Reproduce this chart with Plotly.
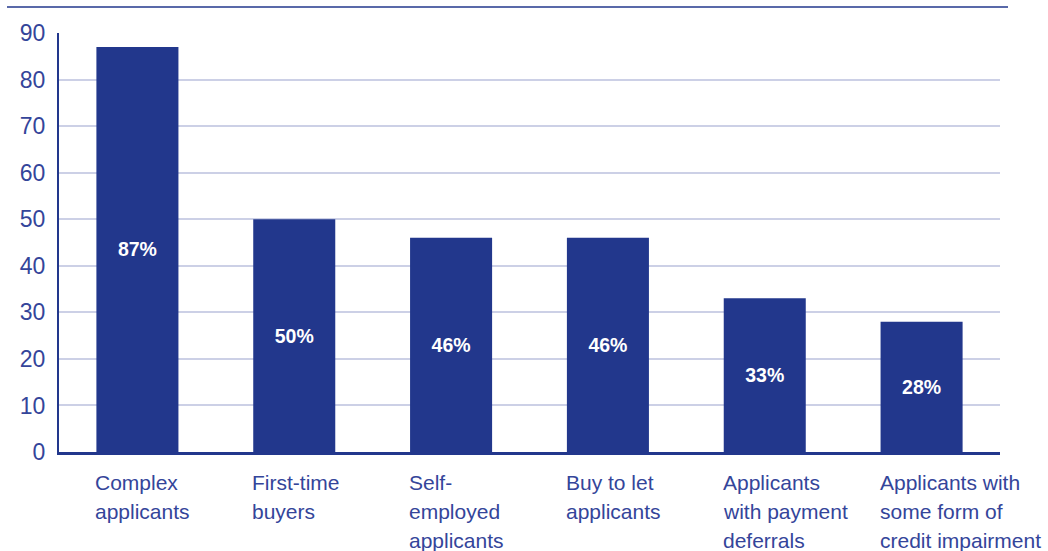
import plotly.graph_objects as go

categories = ["Complex applicants", "First-time buyers", "Self-employed applicants",
              "Buy to let applicants", "Applicants with payment deferrals",
              "Applicants with some form of credit impairment"]
label_lines = [["Complex", "applicants"], ["First-time", "buyers"],
               ["Self-", "employed", "applicants"], ["Buy to let", "applicants"],
               ["Applicants", "with payment", "deferrals"],
               ["Applicants with", "some form of", "credit impairment"]]
values = [87, 50, 46, 46, 33, 28]
value_labels = ["87%", "50%", "46%", "46%", "33%", "28%"]
y_ticks = [0, 10, 20, 30, 40, 50, 60, 70, 80, 90]

BAR = "#22378c"
TXT = "#34459a"
GRID = "#ccd0e6"
FONT = "Liberation Sans, Arial, sans-serif"
bargap = 0.477
half = (1 - bargap) / 2

fig = go.Figure(go.Bar(
    x=list(range(len(categories))), y=values, marker_color=BAR, marker_line_width=0,
    text=value_labels, textposition="inside", insidetextanchor="middle",
    textfont=dict(color="white", size=19.5, family=FONT, weight="bold"),
    hovertext=categories, hoverinfo="text+y",
))

annotations = []
for i, lines in enumerate(label_lines):
    for j, line in enumerate(lines):
        annotations.append(dict(
            x=i - half, y=0, xref="x", yref="y", text=line, showarrow=False,
            xanchor="left", yanchor="middle", yshift=-30 - 29 * j, xshift=-3,
            font=dict(size=21, color=TXT, family=FONT), align="left",
        ))

fig.update_layout(
    width=1048, height=551, margin=dict(l=59, r=48, t=33, b=99),
    paper_bgcolor="white", plot_bgcolor="white", showlegend=False,
    bargap=bargap, annotations=annotations,
    xaxis=dict(range=[-0.5, len(categories) - 0.5], showticklabels=False,
               showgrid=False, zeroline=False, showline=True, linecolor=BAR,
               linewidth=3, ticks=""),
    yaxis=dict(range=[0, 90], tickvals=y_ticks, showgrid=True, gridcolor=GRID,
               gridwidth=2, zeroline=False, showline=True, linecolor=BAR,
               linewidth=2, ticks="", ticklabelstandoff=7,
               tickfont=dict(size=23, color=TXT, family=FONT)),
    shapes=[dict(type="line", xref="paper", yref="paper", x0=-0.0553, x1=1.0085,
                 y0=1.062, y1=1.062, line=dict(color=BAR, width=1.5))],
)
fig.write_html("out.html")
